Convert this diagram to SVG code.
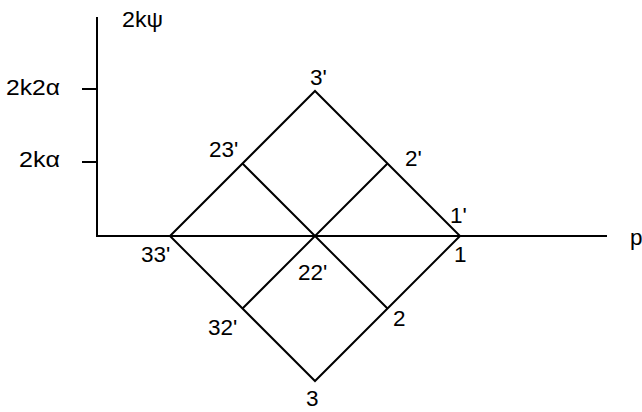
<svg xmlns="http://www.w3.org/2000/svg" width="642" height="412" viewBox="0 0 642 412">
<style>
.ln{stroke:#000;stroke-width:2;fill:none;stroke-linecap:butt;stroke-linejoin:miter}
text{font-family:"Liberation Sans",Arial,sans-serif;font-size:22.5px;fill:#000}
</style>
<rect width="642" height="412" fill="#fff"/>
<g id="axes">
<path class="ln" d="M97,17 V236 H607"/>
<path class="ln" d="M82,89 H97 M82,162 H97"/>
<text x="122" y="27" textLength="41" lengthAdjust="spacingAndGlyphs">2kψ</text>
<text x="6" y="95" textLength="54" lengthAdjust="spacingAndGlyphs">2k2α</text>
<text x="19" y="167" textLength="41" lengthAdjust="spacingAndGlyphs">2kα</text>
<text x="630" y="245">p</text>
</g>
<g id="connectors">
<path class="ln" d="M170,236 L315,91 L460,236 L315,381 Z"/>
<path class="ln" d="M242.5,163.5 L387.5,308.5 M387.5,163.5 L242.5,308.5"/>
</g>
<g id="node-3p"><text x="310" y="85">3'</text></g>
<g id="node-23p"><text x="209" y="157">23'</text></g>
<g id="node-2p"><text x="405" y="166">2'</text></g>
<g id="node-1p"><text x="450" y="223">1'</text></g>
<g id="node-1"><text x="454" y="262">1</text></g>
<g id="node-33p"><text x="141" y="262">33'</text></g>
<g id="node-22p"><text x="298" y="280">22'</text></g>
<g id="node-32p"><text x="208" y="335">32'</text></g>
<g id="node-2"><text x="393" y="326">2</text></g>
<g id="node-3"><text x="306" y="406">3</text></g>
</svg>
